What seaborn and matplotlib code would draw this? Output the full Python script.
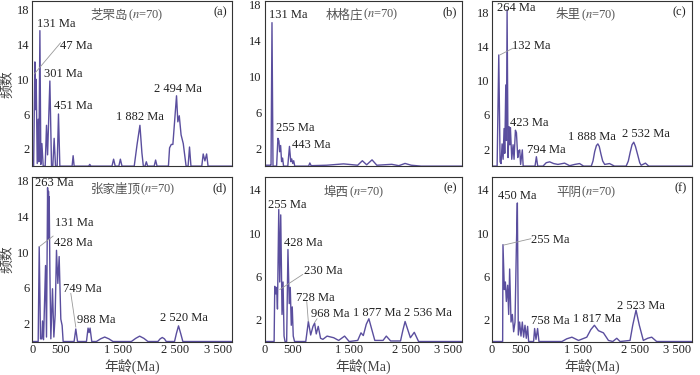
import numpy as np
import pandas as pd
import seaborn as sns
import matplotlib.pyplot as plt

# ---- data (age in Ma, frequency) ----

a_age = [0, 25, 47, 59, 70, 88, 105, 117, 135, 152, 170, 193, 228, 251, 270, 310, 339, 362, 385, 409,
         438, 461, 485, 700, 718, 736, 990, 1010, 1030, 1400, 1428, 1456, 1520, 1547, 1575, 1790, 1840, 1890, 1925, 1950,
         1980, 2002, 2025, 2140, 2165, 2190, 2390, 2410, 2440, 2468, 2532, 2555, 2580, 2612, 2650, 2700, 2735, 2760, 2785, 2975,
         3000, 3030, 3060, 3085, 3500]
a_freq = [0, 0, 12.0, 6.5, 10.0, 0.3, 5.4, 0.5, 15.6, 0.2, 2.6, 0, 0, 4.7, 1.3, 9.8, 0, 0, 3.2, 0,
          0, 6.0, 0, 0, 1.2, 0, 0, 0.2, 0, 0, 0.8, 0, 0, 0.8, 0, 0, 2.5, 4.7, 1.5, 0,
          0, 0.5, 0, 0, 0.7, 0, 0, 2.1, 2.5, 2.5, 8.1, 5.1, 5.8, 3.6, 2.6, 0, 0, 2.2, 0, 0,
          1.4, 0.6, 1.4, 0, 0]

b_age = [0, 100, 114, 131, 149, 213, 236, 254, 266, 284, 301, 319, 336, 411, 441, 464, 481, 499, 516, 534,
         780, 802, 825, 1100, 1400, 1650, 1733, 1810, 1905, 1990, 2255, 2380, 2490, 2600, 2775, 3500]
b_freq = [0.1, 0.1, 0.1, 16.0, 0, 0, 3.1, 2.8, 1.6, 2.3, 0.5, 0.9, 0, 0, 2.2, 0.5, 0.8, 0.3, 0.6, 0,
          0, 0.35, 0.05, 0.1, 0.25, 0.1, 0.6, 0.15, 0.7, 0.1, 0.2, 0.05, 0.3, 0.1, 0, 0]

c_age = [0, 88, 117, 140, 158, 175, 193, 210, 222, 240, 251, 263, 280, 298, 310, 321, 345, 368, 385, 409,
         427, 450, 467, 485, 500, 530, 545, 753, 777, 800, 893, 950, 1010, 1080, 1155, 1272, 1360, 1450, 1535, 1605,
         1740, 1770, 1800, 1830, 1855, 1880, 1910, 1940, 1975, 2060, 2147, 2352, 2390, 2422, 2455, 2485, 2515, 2555, 2590, 2615,
         2690, 2748, 3500]
c_freq = [0, 0, 13.0, 0.5, 0.3, 2.6, 0.8, 4.4, 1.5, 9.5, 3.0, 18.3, 1.0, 4.6, 2.5, 4.5, 0.8, 2.5, 0.8, 4.2,
          3.9, 1.0, 1.8, 1.9, 0.2, 1.9, 0, 0, 1.1, 0, 0, 0.4, 0.5, 0.3, 0.2, 0.35, 0.05, 0.2, 0.3, 0,
          0, 0.6, 1.7, 2.4, 2.6, 2.3, 1.4, 0.6, 0.2, 0.3, 0, 0, 0.6, 1.6, 2.5, 2.8, 2.3, 1.3, 0.4, 0.1,
          0.35, 0, 0]

d_age = [0, 105, 123, 146, 170, 181, 199, 234, 251, 270, 280, 286, 292, 298, 310, 327, 356, 380, 403, 426,
         450, 473, 502, 525, 543, 735, 765, 795, 952, 980, 998, 1015, 1045, 1127, 1200, 1272, 1345, 1418, 1740, 1815,
         1885, 1960, 2030, 2205, 2245, 2282, 2320, 2352, 2497, 2530, 2567, 2605, 2643, 3500]
d_freq = [0, 0, 10.6, 0.3, 0.3, 2.3, 0.2, 8.5, 0.5, 17.2, 11.5, 16.8, 12.0, 16.2, 8.0, 0.3, 5.9, 0.5, 3.0, 10.2,
          6.5, 9.5, 2.5, 1.8, 0, 0, 1.4, 0, 0, 1.5, 1.0, 1.5, 0, 0, 0.3, 0.5, 0.3, 0, 0, 0.35,
          0.6, 0.35, 0, 0, 0.3, 0.45, 0.3, 0, 0, 0.9, 1.75, 0.9, 0, 0]

e_age = [0, 169, 180, 198, 215, 228, 251, 268, 286, 309, 327, 345, 362, 391, 414, 437, 455, 473, 490, 508,
         531, 730, 776, 817, 858, 887, 916, 951, 992, 1033, 1108, 1225, 1313, 1418, 1500, 1651, 1709, 1750, 1803, 1849,
         1896, 1954, 2100, 2158, 2235, 2410, 2450, 2491, 2538, 2585, 2654, 2730, 3500]
e_freq = [0, 0, 5.1, 4.4, 5.0, 3.0, 12.2, 5.5, 11.7, 2.5, 5.5, 0.5, 0, 0, 8.5, 3.5, 5.0, 1.5, 3.2, 0.5,
          0, 0, 1.85, 0.6, 1.4, 1.7, 0.7, 1.4, 0.3, 0.2, 0.5, 0.35, 0.1, 0.5, 0, 0.1, 0.8, 0.55, 1.6, 2.1,
          1.2, 0.1, 0.1, 0.5, 0.05, 0.05, 1.0, 1.85, 1.1, 0.35, 0.85, 0, 0]

f_age = [0, 185, 191, 215, 233, 250, 273, 291, 308, 332, 355, 378, 402, 425, 443, 460, 483, 507, 530, 553,
         577, 600, 623, 641, 728, 746, 770, 798, 822, 1225, 1310, 1400, 1516, 1661, 1732, 1795, 1866, 1953, 2041, 2117,
         2187, 2245, 2420, 2467, 2525, 2583, 2653, 2730, 2800, 2887, 3500]
f_freq = [0, 0, 8.95, 4.8, 5.5, 3.7, 5.2, 2.5, 6.7, 1.8, 2.5, 0.9, 1.8, 8.5, 12.8, 0.6, 1.8, 0.5, 1.8, 0.4,
          1.5, 0.3, 1.4, 0, 0, 1.2, 0.2, 1.2, 0, 0, 0.25, 0.4, 0.1, 0.4, 1.1, 1.5, 1.0, 0.8, 0.1, 0,
          0.3, 0, 0.1, 1.5, 2.9, 1.5, 0.1, 0.3, 0.4, 0, 0]

# site names, panel letters, y-limits, title left edge (age) and height
sites = ['芝罘岛', '林格庄', '朱里', '张家崖顶', '埠西', '平阴']
letters = ['(a)', '(b)', '(c)', '(d)', '(e)', '(f)']
ymax = [19.0, 18.4, 19.3, 18.4, 15.2, 15.2]
title_pos = [(1022, 17.4), (1088, 16.9), (1114, 17.7), (1022, 17.0), (1050, 13.8), (1125, 13.8)]

# peak labels: text, age, freq
a_labels = [('131 Ma', 415, 16.4), ('47 Ma', 777, 13.8), ('301 Ma', 542, 10.6),
            ('451 Ma', 717, 6.9), ('1 882 Ma', 1890, 5.65), ('2 494 Ma', 2555, 8.9)]
b_labels = [('131 Ma', 411, 16.9), ('255 Ma', 546, 4.2), ('443 Ma', 831, 2.4)]
c_labels = [('264 Ma', 415, 18.5), ('132 Ma', 695, 14.0), ('423 Ma', 660, 5.0),
            ('794 Ma', 945, 1.84), ('1 888 Ma', 1750, 3.4), ('2 532 Ma', 2707, 3.7)]
d_labels = [('263 Ma', 380, 17.7), ('131 Ma', 730, 13.3), ('428 Ma', 718, 11.0),
            ('749 Ma', 887, 5.9), ('988 Ma', 1120, 2.36), ('2 520 Ma', 2667, 2.66)]
e_labels = [('255 Ma', 402, 12.6), ('428 Ma', 688, 9.1), ('230 Ma', 1032, 6.5),
            ('728 Ma', 898, 4.0), ('968 Ma', 1172, 2.5), ('1 877 Ma', 2000, 2.6), ('2 536 Ma', 2893, 2.6)]
f_labels = [('450 Ma', 437, 13.4), ('255 Ma', 1020, 9.35), ('758 Ma', 1015, 1.9),
            ('1 817 Ma', 1843, 2.1), ('2 523 Ma', 2607, 3.3)]

# leader lines (age1, freq1, age2, freq2)
a_leaders = [(497, 14.2, 35, 10.6)]
b_leaders = []
c_leaders = [(368, 13.8, 135, 13.0)]
d_leaders = [(368, 11.8, 123, 10.6), (677, 5.4, 765, 1.6)]
e_leaders = [(677, 6.2, 268, 4.8), (747, 3.7, 775, 1.85), (930, 2.1, 885, 1.75)]
f_leaders = [(682, 9.5, 195, 8.9)]

ages = [a_age, b_age, c_age, d_age, e_age, f_age]
freqs = [a_freq, b_freq, c_freq, d_freq, e_freq, f_freq]
labels = [a_labels, b_labels, c_labels, d_labels, e_labels, f_labels]
leaders = [a_leaders, b_leaders, c_leaders, d_leaders, e_leaders, f_leaders]

xticks = [0, 500, 1500, 2500, 3500]
xticklabels = ['0', '500', '1 500', '2 500', '3 500']

#--------------------------------------------------------------------------------------------------

sns.set_theme(style='white')
plt.rcParams['font.family'] = ['Liberation Serif', 'Noto Sans CJK SC']
plt.rcParams['mathtext.fontset'] = 'stix'

line_color = '#5a4e9e'
cols = [(0.046, 0.331), (0.378, 0.660), (0.703, 0.988)]
rows = [(0.557, 0.997), (0.0893, 0.528)]

fig = plt.figure(figsize=(7, 3.75), dpi=100)

for i in range(6):
    r, c = divmod(i, 3)
    l, rr = cols[c]
    b, t = rows[r]
    ax = fig.add_axes([l, b, rr - l, t - b])

    sns.lineplot(x=ages[i], y=freqs[i], ax=ax, color=line_color, lw=1.0,
                 estimator=None, sort=False)

    ax.set_xlim(0, 3500)
    ax.set_ylim(0, ymax[i])
    ax.set_xticks(xticks)
    yt = [2, 6, 10, 14, 18] if ymax[i] > 18 else [2, 6, 10, 14]
    ax.set_yticks(yt)
    ax.set_yticklabels([str(v) for v in yt])
    if r == 1:
        ax.set_xticklabels(xticklabels)
        ax.set_xlabel('年龄(Ma)', fontsize=10, color='#444444', labelpad=2)
        ax.get_xticklabels()[-1].set_ha('right')
    else:
        ax.set_xticklabels([])
    if c == 0:
        ax.set_ylabel('频数', fontsize=10, color='#444444')
        ax.yaxis.set_label_coords(-0.09, 0.5)
    else:
        ax.set_ylabel('')

    ax.tick_params(direction='in', length=3, width=0.7, labelsize=9,
                   colors='#222222', pad=2)
    for sp in ax.spines.values():
        sp.set_color('#333333')
        sp.set_linewidth(0.8)

    # title: site name (CJK) followed by (n=70)
    tx, ty = title_pos[i]
    name = ax.text(tx, ty, sites[i], ha='left', va='center', fontsize=9,
                   color='#555555', family=['Noto Sans CJK SC'])
    ax.annotate('($n$=70)', xy=(1, 0.5), xycoords=name, ha='left', va='center',
                fontsize=9, color='#555555')
    ax.text(0.975, 0.93, letters[i], transform=ax.transAxes, ha='right',
            va='center', fontsize=9, color='#222222')

    for txt, x, y in labels[i]:
        ax.text(x, y, txt, ha='center', va='center', fontsize=9, color='#222222')
    for x1, y1, x2, y2 in leaders[i]:
        ax.plot([x1, x2], [y1, y2], color='#999999', lw=0.6)

fig.savefig('out.png', dpi=100)
